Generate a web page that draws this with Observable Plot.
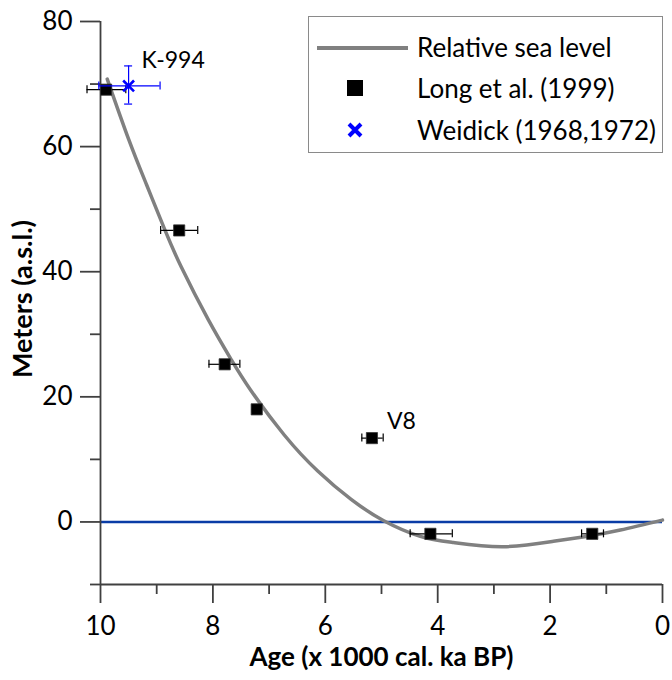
<!DOCTYPE html>
<html>
<head>
<meta charset="utf-8">
<script src="https://cdn.jsdelivr.net/npm/d3@7"></script>
<script src="https://cdn.jsdelivr.net/npm/@observablehq/plot@0.6"></script>
<style>
  body { margin: 0; background: #fff; }
  #wrap { position: relative; width: 672px; height: 680px; font-family: Lato, "Open Sans", sans-serif; }
  #legend { position: absolute; left: 308px; top: 16px; width: 355px; height: 137px; border: 1px solid #8a8a8a; box-sizing: border-box; background: #fff; }
  .li { position: absolute; left: 0; height: 30px; width: 100%; }
  .li .lab { position: absolute; left: 108px; top: 0; font-size: 26px; line-height: 30px; color: #000; white-space: nowrap; }
</style>
</head>
<body>
<div id="wrap">
  <div id="chart"></div>
  <div id="legend">
    <div class="li" style="top:15px">
      <div style="position:absolute;left:8px;top:14px;width:91px;height:3.5px;background:#808080"></div>
      <div class="lab">Relative sea level</div>
    </div>
    <div class="li" style="top:56px">
      <div style="position:absolute;left:38px;top:7px;width:16px;height:16px;background:#000"></div>
      <div class="lab">Long et al. (1999)</div>
    </div>
    <div class="li" style="top:98px">
      <svg style="position:absolute;left:38px;top:7px" width="16" height="16"><path d="M2,2L14,14M14,2L2,14" stroke="#0000ff" stroke-width="4"/></svg>
      <div class="lab">Weidick (1968,1972)</div>
    </div>
  </div>
</div>
<script>
// Relative sea level curve (age ka BP, metres)
const curveAge = [9.88, 9.5, 9.18, 8.86, 8.56, 8.08, 7.67, 7.33, 6.73, 6.13, 5.54, 4.96, 4.31, 3.72, 2.83, 1.94, 1.34, 0.75, 0];
const curveY   = [70.8, 61.2, 53.9, 46.8, 40.7, 32.3, 25.9, 21.1, 13.9, 8.1, 3.6, 0.2, -2.3, -3.3, -3.95, -3.1, -2.3, -1.3, 0.3];

// Long et al. (1999)
const longAge    = [9.90, 8.60, 7.79, 7.22, 5.17, 4.13, 1.25];
const longY      = [69.1, 46.6, 25.2, 18.0, 13.4, -1.9, -1.9];
const longAgeMin = [9.55, 8.27, 7.52, 7.14, 4.97, 3.74, 1.05];
const longAgeMax = [10.24, 8.93, 8.07, 7.30, 5.35, 4.49, 1.44];

// Weidick (1968,1972)
const weidAge = [9.50], weidY = [69.7];
const weidAgeMin = [8.94], weidAgeMax = [10.03];
const weidYMin = [66.8], weidYMax = [72.9];

// annotations
const labels = ["K-994", "V8"];
const labelAge = [9.50, 5.17];
const labelY = [69.7, 13.4];
const labelDx = [13, 15];
const labelDy = [-25, -16];

const majorX = [10, 8, 6, 4, 2, 0];
const minorX = [9, 7, 5, 3, 1];
const majorY = [0, 20, 40, 60, 80];
const minorY = [-10, 10, 30, 50, 70];

const curve = curveAge.map((a, i) => ({age: a, y: curveY[i]}));
const long = longAge.map((a, i) => ({age: a, y: longY[i], lo: longAgeMin[i], hi: longAgeMax[i]}));
const weid = weidAge.map((a, i) => ({age: a, y: weidY[i], lo: weidAgeMin[i], hi: weidAgeMax[i], ylo: weidYMin[i], yhi: weidYMax[i]}));
const labs = labels.map((t, i) => ({t, age: labelAge[i], y: labelY[i], dx: labelDx[i], dy: labelDy[i]}));

const axisColor = "#404040";
const blue = "#0000ff";

const marks = [
  Plot.ruleY([0], {stroke: "#0a3ca6", strokeWidth: 2.5}),
  Plot.line(curve, {x: "age", y: "y", curve: "natural", stroke: "#808080", strokeWidth: 3.5}),
  // axis lines
  Plot.ruleX([10], {y1: -10, y2: 80, stroke: axisColor, strokeWidth: 1.8}),
  Plot.ruleY([-10], {x1: 10, x2: 0, stroke: axisColor, strokeWidth: 1.8}),
  Plot.axisY({ticks: majorY, tickSize: 20, tickPadding: 8, stroke: axisColor, strokeWidth: 1.8, fontSize: 26, label: null}),
  Plot.axisY({ticks: minorY, tickSize: 10, tickFormat: () => "", stroke: axisColor, strokeWidth: 1.8, label: null}),
  Plot.axisX({ticks: majorX, tickSize: 19, tickPadding: 13, stroke: axisColor, strokeWidth: 1.8, fontSize: 26, label: null}),
  Plot.axisX({ticks: minorX, tickSize: 10, tickFormat: () => "", stroke: axisColor, strokeWidth: 1.8, label: null}),
  Plot.text(["Age (x 1000 cal. ka BP)"], {frameAnchor: "bottom", dy: 81, fontSize: 26, fontWeight: "bold"}),
  Plot.text(["Meters (a.s.l.)"], {frameAnchor: "left", textAnchor: "middle", dx: -77, dy: -4, rotate: -90, fontSize: 27, fontWeight: "bold"}),
  // Long et al. error bars
  Plot.ruleY(long, {y: "y", x1: "lo", x2: "hi", stroke: "#000", strokeWidth: 1.2}),
  Plot.ruleX(long, {x: "lo", y1: "y", y2: "y", insetTop: -4, insetBottom: -4, stroke: "#000", strokeWidth: 1.2}),
  Plot.ruleX(long, {x: "hi", y1: "y", y2: "y", insetTop: -4, insetBottom: -4, stroke: "#000", strokeWidth: 1.2}),
  Plot.dot(long, {x: "age", y: "y", symbol: "square", r: 6.3, fill: "#000", stroke: "#333", strokeWidth: 0.8}),
  // Weidick error bars
  Plot.ruleY(weid, {y: "y", x1: "lo", x2: "hi", stroke: blue, strokeWidth: 1.2}),
  Plot.ruleX(weid, {x: "lo", y1: "y", y2: "y", insetTop: -4, insetBottom: -4, stroke: blue, strokeWidth: 1.2}),
  Plot.ruleX(weid, {x: "hi", y1: "y", y2: "y", insetTop: -4, insetBottom: -4, stroke: blue, strokeWidth: 1.2}),
  Plot.ruleX(weid, {x: "age", y1: "ylo", y2: "yhi", stroke: blue, strokeWidth: 1.2}),
  Plot.ruleY(weid, {y: "ylo", x1: "age", x2: "age", insetLeft: -4, insetRight: -4, stroke: blue, strokeWidth: 1.2}),
  Plot.ruleY(weid, {y: "yhi", x1: "age", x2: "age", insetLeft: -4, insetRight: -4, stroke: blue, strokeWidth: 1.2}),
  Plot.dot(weid, {x: "age", y: "y", symbol: "times", r: 5, stroke: blue, strokeWidth: 2.6}),
  ...labs.map(d => Plot.text([d], {x: "age", y: "y", text: "t", dx: d.dx, dy: d.dy, textAnchor: "start", fontSize: 23}))
];

const chart = Plot.plot({
  width: 672,
  height: 680,
  marginLeft: 100,
  marginRight: 10,
  marginTop: 21,
  marginBottom: 96,
  style: {fontFamily: "Lato, 'Open Sans', sans-serif", color: "#000", background: "transparent"},
  x: {domain: [10, 0]},
  y: {domain: [-10, 80]},
  marks
});
document.getElementById("chart").appendChild(chart);
</script>
</body>
</html>
